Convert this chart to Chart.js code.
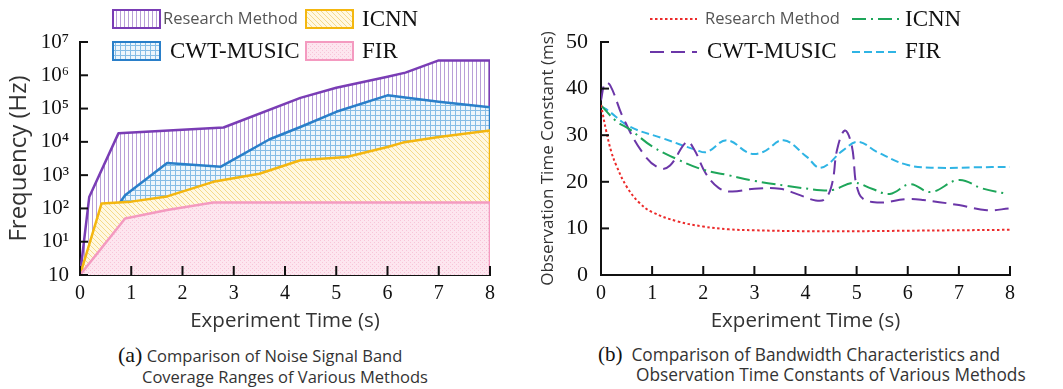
<!DOCTYPE html>
<html><head><meta charset="utf-8">
<script src="https://cdn.jsdelivr.net/npm/chart.js@4.4.1/dist/chart.umd.min.js"></script>
<style>
html,body{margin:0;padding:0;background:#fff;width:1063px;height:389px;overflow:hidden}
.box{position:absolute;top:0;height:340px}
.cap{position:absolute;font-family:'Open Sans',sans-serif;color:#333;white-space:nowrap;line-height:22px}
.ser{font-family:'Liberation Serif',serif;color:#111}
</style></head><body>
<div class="box" style="left:0;width:530px"><canvas id="c1"></canvas></div>
<div class="box" style="left:530px;width:533px"><canvas id="c2"></canvas></div>
<div class="cap" style="left:118px;top:344px;font-size:16.5px"><span class="ser" style="font-size:22px">(a)</span> Comparison of Noise Signal Band</div>
<div class="cap" style="left:142px;top:366px;font-size:16.5px">Coverage Ranges of Various Methods</div>
<div class="cap" style="left:598px;top:343px;font-size:17.3px"><span class="ser" style="font-size:21px">(b)</span>&nbsp; Comparison of Bandwidth Characteristics and</div>
<div class="cap" style="left:636px;top:364px;font-size:17.3px">Observation Time Constants of Various Methods</div>
<script>
// ---------- Data: chart (a) ----------
const researchA_t = [0, 0.18, 0.75, 2.8, 4.3, 5.0, 6.0, 6.35, 7.0, 8, 8];
const researchA_f = [1, 220, 18000, 27000, 210000, 420000, 900000, 1200000, 2800000, 2800000, 1];
const cwtA_t = [0.78, 0.88, 1.7, 2.75, 3.7, 4.3, 5.0, 6.0, 7.0, 8, 8];
const cwtA_f = [150, 250, 2300, 1800, 12000, 28000, 80000, 250000, 160000, 110000, 1];
const icnnA_t = [0, 0.42, 1.0, 1.7, 2.6, 3.5, 4.3, 5.2, 6.0, 6.3, 7.0, 8, 8];
const icnnA_f = [1, 140, 160, 230, 630, 1100, 2800, 3500, 7000, 9500, 14000, 22000, 1];
const firA_t = [0, 0.88, 1.7, 2.6, 8, 8];
const firA_f = [1, 50, 90, 150, 150, 1];
const yTickValsA = [1, 10, 100, 1000, 10000, 100000, 1000000, 10000000];
const yTickLabelsA = ['10', '10\u00B9', '10\u00B2', '10\u00B3', '10\u2074', '10\u2075', '10\u2076', '10\u2077'];

// ---------- Data: chart (b) ----------
const researchB_t = [0, 0.1, 0.2, 0.3, 0.5, 0.75, 1, 1.5, 2, 2.5, 3, 4, 5, 6, 7, 8];
const researchB_v = [36.5, 31, 26.5, 23.5, 19, 15.5, 13.5, 11.5, 10.4, 9.8, 9.6, 9.4, 9.4, 9.5, 9.6, 9.7];
const icnnB_t = [0, 0.3, 0.57, 1.0, 1.5, 2.0, 2.5, 3.0, 3.6, 4.3, 4.55, 4.95, 5.3, 5.65, 6.05, 6.45, 7.0, 7.45, 7.9];
const icnnB_v = [36.4, 33, 31.2, 27.6, 24.8, 22.6, 21.4, 20.2, 19.2, 18.2, 18.3, 19.8, 18.5, 17.4, 19.5, 17.8, 20.4, 18.6, 17.5];
const cwtB_t = [0, 0.08, 0.18, 0.44, 0.83, 1.15, 1.35, 1.68, 1.82, 2.05, 2.3, 2.55, 3.0, 3.5, 3.85, 4.2, 4.38, 4.52, 4.62, 4.77, 4.9, 5.05, 5.35, 6.0, 6.3, 7.0, 7.55, 8.0];
const cwtB_v = [37.5, 41.2, 40.7, 33.6, 26, 22.9, 23.5, 28.6, 27, 21.8, 18.7, 17.9, 18.5, 18.5, 17.3, 16, 16.3, 19.6, 27, 31, 28, 17.4, 15.6, 16.3, 16.1, 15, 13.9, 14.3];
const firB_t = [0, 0.1, 0.57, 1.22, 1.87, 2.07, 2.46, 2.91, 3.17, 3.57, 4.02, 4.3, 4.74, 5.03, 5.4, 6.0, 6.6, 7.3, 8.0];
const firB_v = [36.2, 35.6, 31.8, 29.3, 26.8, 26.4, 28.9, 26.1, 26.4, 28.9, 25.4, 23.0, 26.8, 28.6, 26.4, 23.6, 23.0, 23.1, 23.2];
const yTickValsB = [0, 10, 20, 30, 40, 50];

const seriesNames = ['Research Method', 'ICNN', 'CWT-MUSIC', 'FIR'];
const xTickVals = [0, 1, 2, 3, 4, 5, 6, 7, 8];

const pts = (t, v) => t.map((x, i) => ({x: x, y: v[i]}));

// ---------- Patterns ----------
function makePattern(w, h, bg, draw) {
  const c = document.createElement('canvas'); c.width = w; c.height = h;
  const g = c.getContext('2d');
  g.fillStyle = bg; g.fillRect(0, 0, w, h);
  draw(g);
  return document.createElement('canvas').getContext('2d').createPattern(c, 'repeat');
}
const patPurple = makePattern(4, 4, '#ffffff', g => { g.fillStyle = '#b89fd8'; g.fillRect(0, 0, 1, 4); });
const patBlue = makePattern(5, 5, '#eef6fc', g => { g.fillStyle = '#86bde6'; g.fillRect(0, 0, 5, 1); g.fillRect(0, 0, 1, 5); });
const patYellow = makePattern(5, 5, '#fff8e2', g => { g.strokeStyle = '#f5da8a'; g.lineWidth = 1; g.beginPath(); g.moveTo(-1, -1); g.lineTo(6, 6); g.stroke(); });
const patPink = makePattern(4, 4, '#fde6ef', g => { g.fillStyle = '#f8c4d8'; g.fillRect(0, 0, 1, 1); g.fillRect(2, 2, 1, 1); });

const cPurpleA = '#7a3db5', cBlueA = '#2a7fc9', cYellowA = '#f4b70f', cPinkA = '#f49ac0';
const cRed = '#ec2a2a', cGreen = '#1ea65a', cPurpleB = '#6b36a8', cCyan = '#2fb4e4';
const dRed = [2.5, 2.5], dGreen = [14, 5, 2, 5], dPurple = [14, 7], dCyan = [8, 4];

// ---------- Plugins ----------
const inwardTicks = {
  id: 'inwardTicks',
  afterDatasetsDraw(chart, args, o) {
    const {ctx, chartArea: a, scales: {x, y}} = chart;
    ctx.save(); ctx.strokeStyle = '#111'; ctx.lineWidth = 2; ctx.setLineDash([]);
    x.ticks.forEach((t, i) => { const p = x.getPixelForTick(i); ctx.beginPath(); ctx.moveTo(p, a.bottom); ctx.lineTo(p, a.bottom - o.xLen); ctx.stroke(); });
    y.ticks.forEach((t, i) => { const p = y.getPixelForTick(i); ctx.beginPath(); ctx.moveTo(a.left, p); ctx.lineTo(a.left + o.yLen, p); ctx.stroke(); });
    ctx.restore();
  }
};
const customLegend = {
  id: 'customLegend',
  afterDraw(chart, args, o) {
    const ctx = chart.ctx;
    ctx.save();
    o.items.forEach(it => {
      if (it.kind === 'box') {
        ctx.fillStyle = it.fill; ctx.fillRect(it.x, it.y, 47, 18);
        ctx.strokeStyle = it.border; ctx.lineWidth = 2; ctx.strokeRect(it.x, it.y, 47, 18);
      } else {
        ctx.strokeStyle = it.border; ctx.lineWidth = 2; ctx.setLineDash(it.dash);
        ctx.beginPath(); ctx.moveTo(it.x, it.y); ctx.lineTo(it.x + 47, it.y); ctx.stroke(); ctx.setLineDash([]);
      }
      ctx.font = it.font; ctx.fillStyle = it.color; ctx.textBaseline = 'middle'; ctx.textAlign = 'left';
      ctx.fillText(it.label, it.tx, it.ty);
    });
    ctx.restore();
  }
};

const sansFam = "'Open Sans', sans-serif";
const serFam = "'Liberation Serif', 'Times New Roman', serif";

function xScale() {
  return {
    type: 'linear', min: 0, max: 8,
    afterBuildTicks: s => { s.ticks = xTickVals.map(v => ({value: v})); },
    afterFit: s => { s.height = 65; },
    grid: {display: false, drawTicks: false},
    border: {display: true, color: '#111', width: 2},
    ticks: {padding: 7, color: '#111', font: {family: serFam, size: 20}, autoSkip: false, maxRotation: 0},
    title: {display: true, text: 'Experiment Time (s)', color: '#333', font: {family: sansFam, size: 20.5}, padding: {top: 0, bottom: 7}}
  };
}

// ---------- Chart (a) ----------
new Chart(document.getElementById('c1'), {
  type: 'line',
  data: {
    datasets: [
      {label: seriesNames[3], data: pts(firA_t, firA_f), borderColor: cPinkA, backgroundColor: patPink, fill: 'start', borderWidth: 2.5},
      {label: seriesNames[1], data: pts(icnnA_t, icnnA_f), borderColor: cYellowA, backgroundColor: patYellow, fill: 'start', borderWidth: 2.5},
      {label: seriesNames[2], data: pts(cwtA_t, cwtA_f), borderColor: cBlueA, backgroundColor: patBlue, fill: 'start', borderWidth: 2.5},
      {label: seriesNames[0], data: pts(researchA_t, researchA_f), borderColor: cPurpleA, backgroundColor: patPurple, fill: 'start', borderWidth: 2.5}
    ]
  },
  options: {
    responsive: true, maintainAspectRatio: false, animation: false,
    elements: {point: {radius: 0}, line: {tension: 0, borderJoinStyle: 'round'}},
    layout: {padding: {left: 0, right: 40, top: 42, bottom: 0}},
    plugins: {
      legend: {display: false}, tooltip: {enabled: false},
      inwardTicks: {xLen: 9, yLen: 8},
      customLegend: {items: [
        {kind: 'box', fill: patPurple, border: cPurpleA, x: 113, y: 10, label: seriesNames[0], tx: 163, ty: 19, font: "16.5px " + sansFam, color: '#555'},
        {kind: 'box', fill: patYellow, border: cYellowA, x: 306, y: 10, label: seriesNames[1], tx: 362, ty: 20, font: "23px " + serFam, color: '#111'},
        {kind: 'box', fill: patBlue, border: cBlueA, x: 113, y: 42, label: seriesNames[2], tx: 170, ty: 52, font: "23px " + serFam, color: '#111'},
        {kind: 'box', fill: patPink, border: cPinkA, x: 306, y: 42, label: seriesNames[3], tx: 362, ty: 52, font: "23px " + serFam, color: '#111'}
      ]}
    },
    scales: {
      x: xScale(),
      y: {
        type: 'logarithmic', min: 1, max: 10000000,
        afterBuildTicks: s => { s.ticks = yTickValsA.map(v => ({value: v})); },
        afterFit: s => { s.width = 80; },
        grid: {display: false, drawTicks: false},
        border: {display: true, color: '#111', width: 2},
        ticks: {padding: 11, color: '#111', font: {family: serFam, size: 21}, autoSkip: false, callback: (v, i) => yTickLabelsA[i]},
        title: {display: true, text: 'Frequency (Hz)', color: '#333', font: {family: sansFam, size: 24}, padding: {top: 5, bottom: 0}}
      }
    }
  },
  plugins: [inwardTicks, customLegend]
});

// ---------- Chart (b) ----------
new Chart(document.getElementById('c2'), {
  type: 'line',
  data: {
    datasets: [
      {label: seriesNames[0], data: pts(researchB_t, researchB_v), borderColor: cRed, borderDash: dRed, borderWidth: 2},
      {label: seriesNames[1], data: pts(icnnB_t, icnnB_v), borderColor: cGreen, borderDash: dGreen, borderWidth: 2},
      {label: seriesNames[2], data: pts(cwtB_t, cwtB_v), borderColor: cPurpleB, borderDash: dPurple, borderWidth: 2},
      {label: seriesNames[3], data: pts(firB_t, firB_v), borderColor: cCyan, borderDash: dCyan, borderWidth: 2}
    ]
  },
  options: {
    responsive: true, maintainAspectRatio: false, animation: false,
    elements: {point: {radius: 0}, line: {tension: 0.4, fill: false}},
    layout: {padding: {left: 0, right: 53, top: 42, bottom: 0}},
    plugins: {
      legend: {display: false}, tooltip: {enabled: false},
      inwardTicks: {xLen: 9, yLen: 8},
      customLegend: {items: [
        {kind: 'line', dash: dRed, border: cRed, x: 120, y: 19, label: seriesNames[0], tx: 175, ty: 19, font: "16.5px " + sansFam, color: '#555'},
        {kind: 'line', dash: dGreen, border: cGreen, x: 322, y: 19, label: seriesNames[1], tx: 375, ty: 20, font: "23px " + serFam, color: '#111'},
        {kind: 'line', dash: dPurple, border: cPurpleB, x: 120, y: 52, label: seriesNames[2], tx: 177, ty: 52, font: "23px " + serFam, color: '#111'},
        {kind: 'line', dash: dCyan, border: cCyan, x: 322, y: 52, label: seriesNames[3], tx: 375, ty: 52, font: "23px " + serFam, color: '#111'}
      ]}
    },
    scales: {
      x: xScale(),
      y: {
        type: 'linear', min: 0, max: 50,
        afterBuildTicks: s => { s.ticks = yTickValsB.map(v => ({value: v})); },
        afterFit: s => { s.width = 71; },
        grid: {display: false, drawTicks: false},
        border: {display: true, color: '#111', width: 2},
        ticks: {padding: 13, color: '#111', font: {family: serFam, size: 22}, autoSkip: false},
        title: {display: true, text: 'Observation Time Constant (ms)', color: '#333', font: {family: sansFam, size: 17}, padding: {top: 8, bottom: 0}}
      }
    }
  },
  plugins: [inwardTicks, customLegend]
});
</script>
</body></html>
